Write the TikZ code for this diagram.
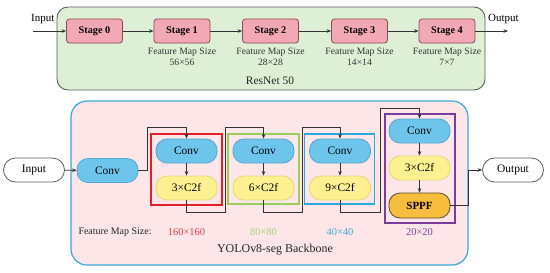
\documentclass[tikz,border=0pt]{standalone}
\usepackage{fontspec}
\setmainfont{Liberation Serif}
\usetikzlibrary{arrows.meta,calc}
\definecolor{resfill}{HTML}{DDEFD5}
\definecolor{resdraw}{HTML}{5E5E5E}
\definecolor{stfill}{HTML}{F3A9B5}
\definecolor{stdraw}{HTML}{8A4A55}
\definecolor{yofill}{HTML}{FCE6E8}
\definecolor{yodraw}{HTML}{3AA9D9}
\definecolor{convfill}{HTML}{6EC5EC}
\definecolor{convdraw}{HTML}{55A7D2}
\definecolor{cffill}{HTML}{FDF090}
\definecolor{cfdraw}{HTML}{E6D77A}
\definecolor{spfill}{HTML}{F7BE3E}
\definecolor{spdraw}{HTML}{5C4A2A}
\definecolor{cred}{HTML}{E0202A}
\definecolor{cgreen}{HTML}{9CCD5C}
\definecolor{cblue}{HTML}{2EA8DC}
\definecolor{cpurple}{HTML}{7B3C9C}
\definecolor{tred}{HTML}{E04048}
\definecolor{tgreen}{HTML}{A8D27E}
\definecolor{tblue}{HTML}{3AAAD8}
\definecolor{tpurple}{HTML}{8444A4}
\definecolor{lin}{HTML}{333333}
\begin{document}
\begin{tikzpicture}[x=1bp,y=-1bp,
  arr/.style={draw=lin,line width=0.9bp,-{Stealth[length=4.5bp,width=3.6bp]}},
  stagebox/.style={draw=stdraw,fill=stfill,line width=0.8bp,rounded corners=3bp,minimum width=56bp,minimum height=24bp,inner sep=0pt,font=\fontsize{10.3}{12}\selectfont\bfseries},
  fmtext/.style={align=center,font=\fontsize{9.7}{10.5}\selectfont,text=black!80},
  convbox/.style={draw=convdraw,fill=convfill,line width=0.8bp,rounded corners=11bp,minimum width=61bp,minimum height=24bp,inner sep=0pt,font=\fontsize{11.5}{13}\selectfont},
  cfbox/.style={draw=cfdraw,fill=cffill,line width=0.8bp,rounded corners=11bp,minimum width=61bp,minimum height=24bp,inner sep=0pt,font=\fontsize{11.5}{13}\selectfont},
  spbox/.style={draw=spdraw,fill=spfill,line width=0.8bp,rounded corners=11bp,minimum width=61bp,minimum height=25bp,inner sep=0pt,font=\fontsize{11}{13}\selectfont\bfseries},
  iobox/.style={draw=lin!80,fill=white,line width=0.8bp,rounded corners=12bp,minimum width=61bp,minimum height=24bp,inner sep=0pt,font=\fontsize{11.5}{13}\selectfont},
  grp/.style={line width=1.6bp}]
\useasboundingbox (0,0) rectangle (550,272);
% ---------- ResNet 50 ----------
\node[draw=resdraw,fill=resfill,line width=0.9bp,rounded corners=11bp,minimum width=428bp,minimum height=83bp,inner sep=0pt] (res) at (271,48.5) {};
\node[stagebox] (s0) at (94.5,31) {Stage 0};
\node[stagebox] (s1) at (182,31) {Stage 1};
\node[stagebox] (s2) at (270.5,31) {Stage 2};
\node[stagebox] (s3) at (359.5,31) {Stage 3};
\node[stagebox] (s4) at (447,31) {Stage 4};
\node[fmtext] (f1) at (182,57) {Feature Map Size\\56×56};
\node[fmtext] (f2) at (270.5,57) {Feature Map Size\\28×28};
\node[fmtext] (f3) at (359.5,57) {Feature Map Size\\14×14};
\node[fmtext] (f4) at (447,57) {Feature Map Size\\7×7};
\node[font=\fontsize{11.5}{13}\selectfont,text=black!85] (rl) at (270,81) {ResNet 50};
\coordinate (rin) at (33,31);
\coordinate (rout) at (508,31);
\node[font=\fontsize{11}{13}\selectfont,anchor=south west,inner sep=0pt] (rinl) at (31,24.5) {Input};
\node[font=\fontsize{11}{13}\selectfont,anchor=south west,inner sep=0pt] (routl) at (488,24.5) {Output};
\draw[arr] (rin) -- (s0);
\draw[arr] (s0) -- (s1);
\draw[arr] (s1) -- (s2);
\draw[arr] (s2) -- (s3);
\draw[arr] (s3) -- (s4);
\draw[arr] (s4) -- (rout);
% ---------- YOLOv8-seg ----------
\node[draw=yodraw,fill=yofill,line width=1.2bp,rounded corners=16bp,minimum width=397bp,minimum height=164bp,inner sep=0pt] (yo) at (269.5,183) {};
\node[iobox] (in) at (34,170) {Input};
\node[convbox] (c0) at (107.5,170.5) {Conv};
\node[draw=cred,grp,minimum width=71bp,minimum height=71bp,inner sep=0pt] (gr) at (186.5,169.5) {};
\node[draw=cgreen,grp,minimum width=71bp,minimum height=70bp,inner sep=0pt] (gg) at (263.5,169) {};
\node[draw=cblue,grp,minimum width=70bp,minimum height=70bp,inner sep=0pt] (gb) at (339.5,169) {};
\node[draw=cpurple,grp,minimum width=70bp,minimum height=109bp,inner sep=0pt] (gp) at (420,168.5) {};
\node[convbox] (c1) at (186.5,151) {Conv};
\node[cfbox] (k1) at (186.5,188) {3×C2f};
\node[convbox] (c2) at (263.5,151) {Conv};
\node[cfbox] (k2) at (263.5,188) {6×C2f};
\node[convbox] (c3) at (340,151) {Conv};
\node[cfbox] (k3) at (340,188) {9×C2f};
\node[convbox] (c4) at (419.5,131) {Conv};
\node[cfbox] (k4) at (419.5,168) {3×C2f};
\node[spbox] (sp) at (419.5,205.5) {SPPF};
\node[iobox] (out) at (513,170) {Output};
\draw[arr] (in) -- (c0);
\draw[arr] (c0.east) -- ++(9,0) -- ++(0,-43.5) -| (c1.north);
\draw[arr] (c1) -- (k1);
\draw[arr] (k1.south) -- ++(0,12) -- ++(38.5,0) -- ++(0,-85) -| (c2.north);
\draw[arr] (c2) -- (k2);
\draw[arr] (k2.south) -- ++(0,12) -- ++(38.5,0) -- ++(0,-85) -| (c3.north);
\draw[arr] (c3) -- (k3);
\draw[arr] (k3.south) -- ++(0,12) -- ++(40,0) -- ++(0,-104) -| (c4.north);
\draw[arr] (c4) -- (k4);
\draw[arr] (k4) -- (sp);
\draw[arr] (sp.east) -- ++(18,0) |- (out.west);
\node[font=\fontsize{10}{12}\selectfont,anchor=west,text=black!85] (fml) at (75,232) {Feature Map Size:};
\node[font=\fontsize{10.5}{12}\selectfont,text=tred] (z1) at (186.5,232) {160×160};
\node[font=\fontsize{10.5}{12}\selectfont,text=tgreen] (z2) at (263.5,232) {80×80};
\node[font=\fontsize{10.5}{12}\selectfont,text=tblue] (z3) at (340,232) {40×40};
\node[font=\fontsize{10.5}{12}\selectfont,text=tpurple] (z4) at (419.5,232) {20×20};
\node[font=\fontsize{12}{14}\selectfont,text=black!85] (yl) at (275,250) {YOLOv8-seg Backbone};
\end{tikzpicture}
\end{document}
